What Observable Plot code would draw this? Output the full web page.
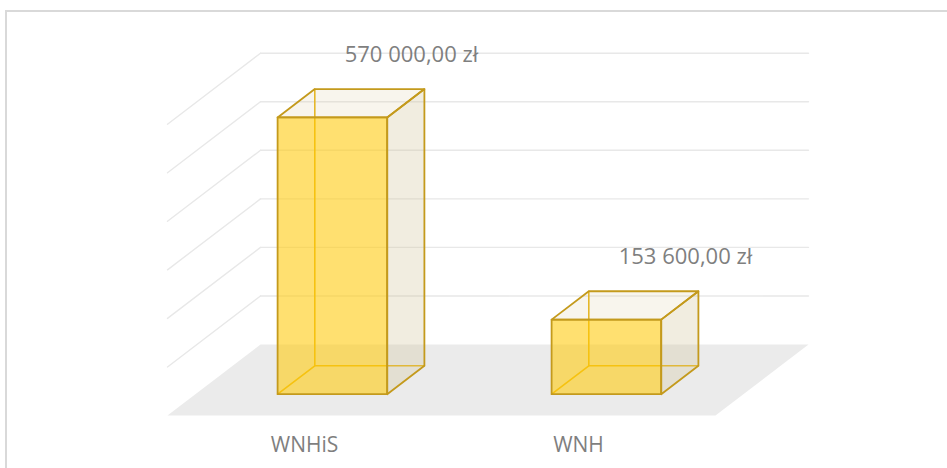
<!DOCTYPE html>
<html>
<head>
<meta charset="utf-8">
<script src="https://cdn.jsdelivr.net/npm/d3@7"></script>
<script src="https://cdn.jsdelivr.net/npm/@observablehq/plot@0.6"></script>
<style>
  html, body { margin: 0; padding: 0; background: #ffffff; }
  #wrap { position: relative; width: 947px; height: 468px; overflow: hidden; }
  #border { position: absolute; left: 5px; top: 10px; right: 0; bottom: 0;
            border-top: 2px solid #d9d9d9; border-left: 2px solid #d9d9d9; pointer-events: none; }
</style>
</head>
<body>
<div id="wrap"><div id="chart"></div><div id="border"></div></div>
<script>
// ---- data ----
const categories = ["WNHiS", "WNH"];
const values = [570000, 153600];
const valueLabels = ["570 000,00 zł", "153 600,00 zł"];
const gridTicks = [100000, 200000, 300000, 400000, 500000, 600000];

// ---- 3D projection (depth w: 0 = back wall, 1 = front of floor) ----
const n = categories.length;
const yMax = 600000;
const kx = 93 / 274;                 // horizontal shift per unit depth, in category slots
const ky = 71 * yMax / 291.3;        // vertical shift per unit depth, in value units
const barHalf = 0.2, w0 = 0.3, w1 = 0.7;
const P = (u, v, w) => ({x: u - kx * w, y: v - ky * w});

function poly(id, pts, closed) {
  const arr = pts.map(p => ({id, ...p}));
  if (closed) arr.push({id, ...pts[0]});
  return arr;
}

const floor = poly("floor", [P(0, 0, 0), P(n, 0, 0), P(n, 0, 1), P(0, 0, 1)], true);
const backGrid = gridTicks.flatMap(v => poly("b" + v, [P(0, v, 0), P(n, v, 0)]));
const sideGrid = gridTicks.flatMap(v => poly("s" + v, [P(0, v, 0), P(0, v, 1)]));

const fronts = [], rights = [], tops = [], hidden = [];
values.forEach((V, i) => {
  const u0 = i + 0.5 - barHalf, u1 = i + 0.5 + barHalf;
  fronts.push(...poly("f" + i, [P(u0, 0, w1), P(u1, 0, w1), P(u1, V, w1), P(u0, V, w1)], true));
  rights.push(...poly("r" + i, [P(u1, 0, w1), P(u1, 0, w0), P(u1, V, w0), P(u1, V, w1)], true));
  tops.push(...poly("t" + i, [P(u0, V, w1), P(u1, V, w1), P(u1, V, w0), P(u0, V, w0)], true));
  hidden.push(...poly("h1" + i, [P(u0, 0, w1), P(u0, 0, w0), P(u1, 0, w0)]));
  hidden.push(...poly("h2" + i, [P(u0, 0, w0), P(u0, V, w0)]));
});

const catText = categories.map((c, i) => ({label: c, ...P(i + 0.5, 0, 1)}));
const valText = values.map((v, i) => ({label: valueLabels[i], ...P(i + 0.5, v, 0)}));

const font = "'Open Sans', 'Noto Sans', sans-serif";
const edge = "#C49A1C";

const chart = Plot.plot({
  width: 947,
  height: 468,
  marginLeft: 260,
  marginRight: 139,
  marginTop: 52.7,
  marginBottom: 124,
  x: {domain: [0, n], axis: null},
  y: {domain: [0, yMax], axis: null},
  style: {background: "transparent", overflow: "visible", fontFamily: font},
  marks: [
    Plot.line(floor, {x: "x", y: "y", z: "id", fill: "#EBEBEB", stroke: "none"}),
    Plot.line(backGrid, {x: "x", y: "y", z: "id", stroke: "#E8E8E8", strokeWidth: 1.4}),
    Plot.line(sideGrid, {x: "x", y: "y", z: "id", stroke: "#E8E8E8", strokeWidth: 1.4}),
    Plot.line(hidden, {x: "x", y: "y", z: "id", stroke: "#E8B410", strokeWidth: 1.6}),
    Plot.line(rights, {x: "x", y: "y", z: "id", fill: "#D0C497", fillOpacity: 0.3, stroke: "none"}),
    Plot.line(tops, {x: "x", y: "y", z: "id", fill: "#D8C99A", fillOpacity: 0.18, stroke: "none"}),
    Plot.line(fronts, {x: "x", y: "y", z: "id", fill: "#FFCC10", fillOpacity: 0.6, stroke: "none"}),
    Plot.line([...rights, ...tops, ...fronts], {x: "x", y: "y", z: "id", stroke: edge, strokeWidth: 1.8, strokeLinejoin: "round"}),
    Plot.text(catText, {x: "x", y: "y", text: "label", dy: 30, fontSize: 21, fill: "#7F7F7F", fontFamily: font}),
    Plot.text(valText, {x: "x", y: "y", text: "label", dx: 14, dy: -13, fontSize: 22, fill: "#7F7F7F", fontFamily: font})
  ]
});
document.getElementById("chart").appendChild(chart);
</script>
</body>
</html>
